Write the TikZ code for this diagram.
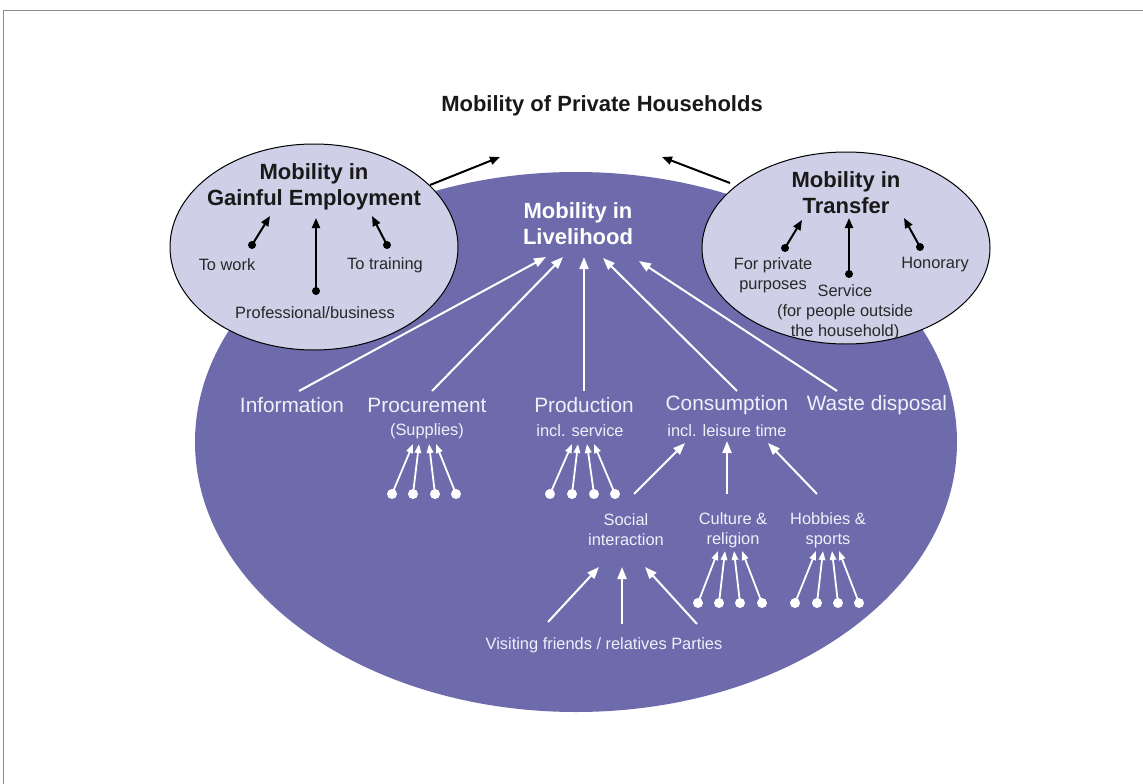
\documentclass[tikz,border=0pt]{standalone}
\usepackage{fontspec}
\setmainfont{Liberation Sans}
\usetikzlibrary{arrows.meta}
\definecolor{purp}{RGB}{109,107,171}
\definecolor{lav}{RGB}{208,207,232}
\definecolor{framegray}{RGB}{140,140,140}
\definecolor{darktxt}{RGB}{40,40,40}
\definecolor{wtxt}{RGB}{240,240,250}
\begin{document}
\begin{tikzpicture}[x=1pt,y=-1pt,
  big/.style={font=\fontsize{20.8}{23}\selectfont, text=wtxt, inner sep=0},
  sub/.style={font=\fontsize{16.4}{20}\selectfont, text=wtxt, inner sep=0, align=center},
  dsub/.style={font=\fontsize{16.4}{20}\selectfont, text=darktxt, inner sep=0, align=center},
  btitle/.style={font=\bfseries\fontsize{22}{26}\selectfont, text=black!90, inner sep=0, align=center},
  wtitle/.style={font=\bfseries\fontsize{22}{26}\selectfont, text=white, inner sep=0, align=center},
  barrow/.style={line width=2pt, -{Triangle[length=10pt,width=8pt]}},
  warrow/.style={white, line width=2pt, -{Triangle[length=12pt,width=9pt]}},
  sarrow/.style={white, line width=1.8pt, -{Triangle[length=9pt,width=6.5pt]}},
]
\useasboundingbox (0,0) rectangle (1143,784);
% frame
\draw[framegray, line width=1.5pt] (3.5,784) -- (3.5,10.5) -- (1143,10.5);

% big ellipse
\fill[purp] (576,442) ellipse [x radius=381, y radius=270];

% title
\node[btitle] (title) at (602,106) {Mobility of Private Households};
\coordinate (tl) at (500,157);
\coordinate (tr) at (662,157);

% left ellipse
\filldraw[fill=lav, draw=black, line width=1pt] (314,247) ellipse [x radius=144, y radius=103];
\node[btitle] (gain) at (314,187) {Mobility in\\Gainful Employment};
% right ellipse
\filldraw[fill=lav, draw=black, line width=1pt] (846,248) ellipse [x radius=144, y radius=96];
\node[btitle] (trans) at (846,193) {Mobility in\\Transfer};

% arrows to title
\coordinate (lea) at (430,185);
\coordinate (rea) at (730,183);
\draw[barrow] (lea) -- (tl);
\draw[barrow] (rea) -- (tr);

% left ellipse content
\node[dsub] (work) at (227,265) {To work};
\node[dsub] (train) at (385,265) {To training};
\node[dsub] (prof) at (315,313) {Professional/business};
\coordinate (w0) at (252,245); \coordinate (w1) at (270,216);
\coordinate (p0) at (316,291); \coordinate (p1) at (316,218);
\coordinate (t0) at (387,245); \coordinate (t1) at (372,216);
\foreach \a/\b in {w0/w1,p0/p1,t0/t1}{
  \draw[barrow] (\a) -- (\b);
  \fill (\a) circle (4pt);
}

% right ellipse content
\node[dsub] (priv) at (773,275) {For private\\purposes};
\node[dsub] (hon) at (935,265) {Honorary};
\node[dsub] (serv) at (845,312) {Service\\(for people outside\\the household)};
\coordinate (r0) at (785,248); \coordinate (r1) at (802,220);
\coordinate (s0) at (849,274); \coordinate (s1) at (849,218);
\coordinate (h0) at (920,247); \coordinate (h1) at (904,218);
\foreach \a/\b in {r0/r1,s0/s1,h0/h1}{
  \draw[barrow] (\a) -- (\b);
  \fill (\a) circle (4pt);
}

% livelihood
\node[wtitle] (live) at (578,224) {Mobility in\\Livelihood};

% categories
\node[big] (info) at (292,405) {Information};
\node[big] (proc) at (427,405) {Procurement};
\node[big] (prod) at (584,405) {Production};
\node[big] (cons) at (727,405) {Consumption};
\node[big] (waste) at (877,405) {Waste disposal};
\node[sub] (supp) at (427,431) {(Supplies)};
\node[sub] (serv2) at (580,431) {incl. service};
\node[sub] (leis) at (727,431) {incl. leisure time};

\coordinate (i0) at (299,391); \coordinate (i1) at (546,257);
\coordinate (c0) at (432,391); \coordinate (c1) at (563,257);
\coordinate (d0) at (584,391); \coordinate (d1) at (584,257);
\coordinate (n0) at (737,391); \coordinate (n1) at (603,258);
\coordinate (x0) at (837,391); \coordinate (x1) at (639,261);
\foreach \a/\b in {i0/i1,c0/c1,d0/d1,n0/n1,x0/x1}
  \draw[warrow] (\a) -- (\b);

% clusters
\foreach \xa/\xb in {392/413,413/419,435/429,456/436, 550/572,572/578,594/587,615/594}{
  \draw[sarrow] (\xa,494) -- (\xb,444);
  \fill[white] (\xa,494) circle (5pt);
}

% consumption sub
\node[sub] (soc) at (626,530) {Social\\interaction};
\node[sub] (cult) at (733,530) {Culture \&\\religion};
\node[sub] (hobb) at (828,530) {Hobbies \&\\sports};
\coordinate (so0) at (634,494); \coordinate (so1) at (685,443);
\coordinate (cu0) at (727,494); \coordinate (cu1) at (727,441);
\coordinate (ho0) at (817,494); \coordinate (ho1) at (768,443);
\foreach \a/\b in {so0/so1,cu0/cu1,ho0/ho1}
  \draw[warrow] (\a) -- (\b);

\foreach \xa/\xb in {698/718,719/725,740/734,762/742, 795/816,817/823,838/832,859/839}{
  \draw[sarrow] (\xa,603) -- (\xb,551);
  \fill[white] (\xa,603) circle (5pt);
}

% social interaction sub
\node[sub] (visit) at (604,645) {Visiting friends / relatives Parties};
\coordinate (v0) at (548,622); \coordinate (v1) at (599,567);
\coordinate (m0) at (622,624); \coordinate (m1) at (622,567);
\coordinate (y0) at (697,624); \coordinate (y1) at (645,567);
\foreach \a/\b in {v0/v1,m0/m1,y0/y1}
  \draw[warrow] (\a) -- (\b);
\end{tikzpicture}
\end{document}
